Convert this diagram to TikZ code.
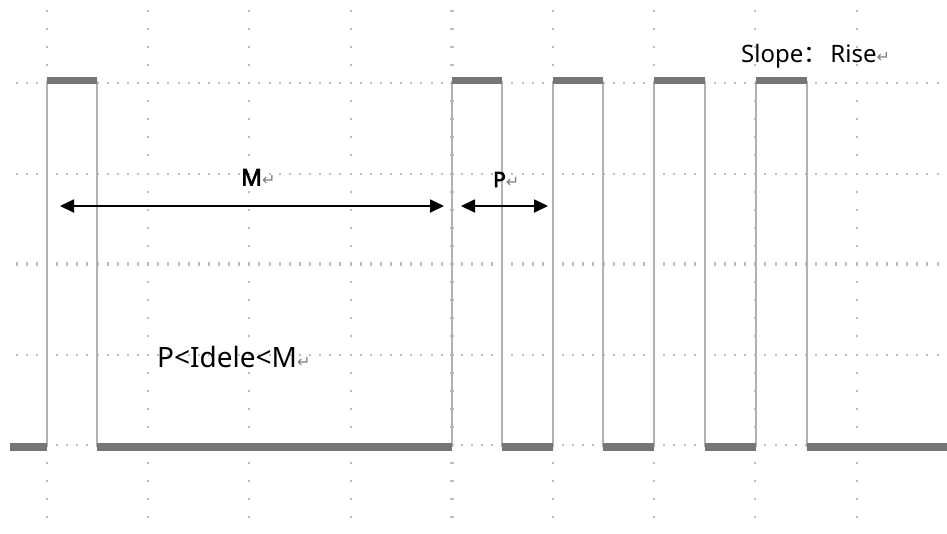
\documentclass[tikz,border=0pt]{standalone}
\usepackage{fontspec}
\setmainfont{Noto Sans}
\newfontfamily\labfont{Noto Sans}[FakeBold=3]
\newfontfamily\cjkfont{Noto Sans CJK SC}
\newfontfamily\markfont{DejaVu Sans}
\usetikzlibrary{arrows.meta}
\definecolor{gridgray}{RGB}{188,188,188}
\definecolor{edgegray}{RGB}{178,178,178}
\definecolor{levelgray}{RGB}{118,118,118}
\newcommand{\parmark}{{\markfont\fontsize{16}{16}\selectfont\textcolor{gray}{↵}}}

\begin{document}
\begin{tikzpicture}[x=1pt,y=-1pt,>={Stealth[inset=0pt,length=14pt,width=13pt]}]
\tikzset{
  riseline/.style={draw=edgegray,line width=1.7pt},
  hilo/.style={draw=levelgray,line width=6.5pt},
  dimline/.style={<->,draw=black,line width=1.8pt},
  txt/.style={inner sep=0pt,anchor=base west}
}
\useasboundingbox (0,0) rectangle (947,533);

\foreach \gy in {83,173.5,354.5,445}
  \foreach \i in {0,...,92}
    \fill[gridgray] (16.6+\i*10.12-1,\gy-1) rectangle ++(2,2);
\foreach \i in {0,...,92}
  \fill[gridgray] (16.6+\i*10.12-1,262) rectangle ++(2,4);
\foreach \gx in {47,148.2,249.4,350.6,553,654.2,755.4,856.6}
  \foreach \j in {0,...,28}
    \fill[gridgray] (\gx-1,10.6+\j*18.1-1) rectangle ++(2,2);
\foreach \j in {0,...,28}
  \fill[gridgray] (449.8,10.6+\j*18.1-1) rectangle ++(4,2);

\foreach \a/\b in {47/97,452/502,553/603,654/705,756/807} {
  \draw[riseline] (\a,447) -- (\a,80.5);
  \draw[riseline] (\b,80.5) -- (\b,447);
  \draw[hilo] (\a,80.5) -- (\b,80.5);
}
\foreach \a/\b in {10/47,97/452,502/553,603/654,705/756,807/947}
  \draw[hilo,line width=7.5pt] (\a,447) -- (\b,447);

\coordinate (mL) at (60,206);
\coordinate (mR) at (444,206);
\coordinate (pL) at (461,206);
\coordinate (pR) at (548,206);
\draw[dimline] (mL) -- (mR);
\draw[dimline] (pL) -- (pR);

\node[txt,font=\labfont\fontsize{23}{23}\selectfont] (mlab) at (241,185.5) {M\parmark};
\node[txt,font=\labfont\fontsize{21}{21}\selectfont] (plab) at (493,187) {P\parmark};
\node[txt,font=\fontsize{28}{28}\selectfont] (cond) at (157,367) {P<Idele<M\parmark};
\node[txt,font=\fontsize{24}{24}\selectfont] (slope) at (741,62) {Slope{\cjkfont ：}\hspace{3pt}Rise\parmark};
\end{tikzpicture}
\end{document}
